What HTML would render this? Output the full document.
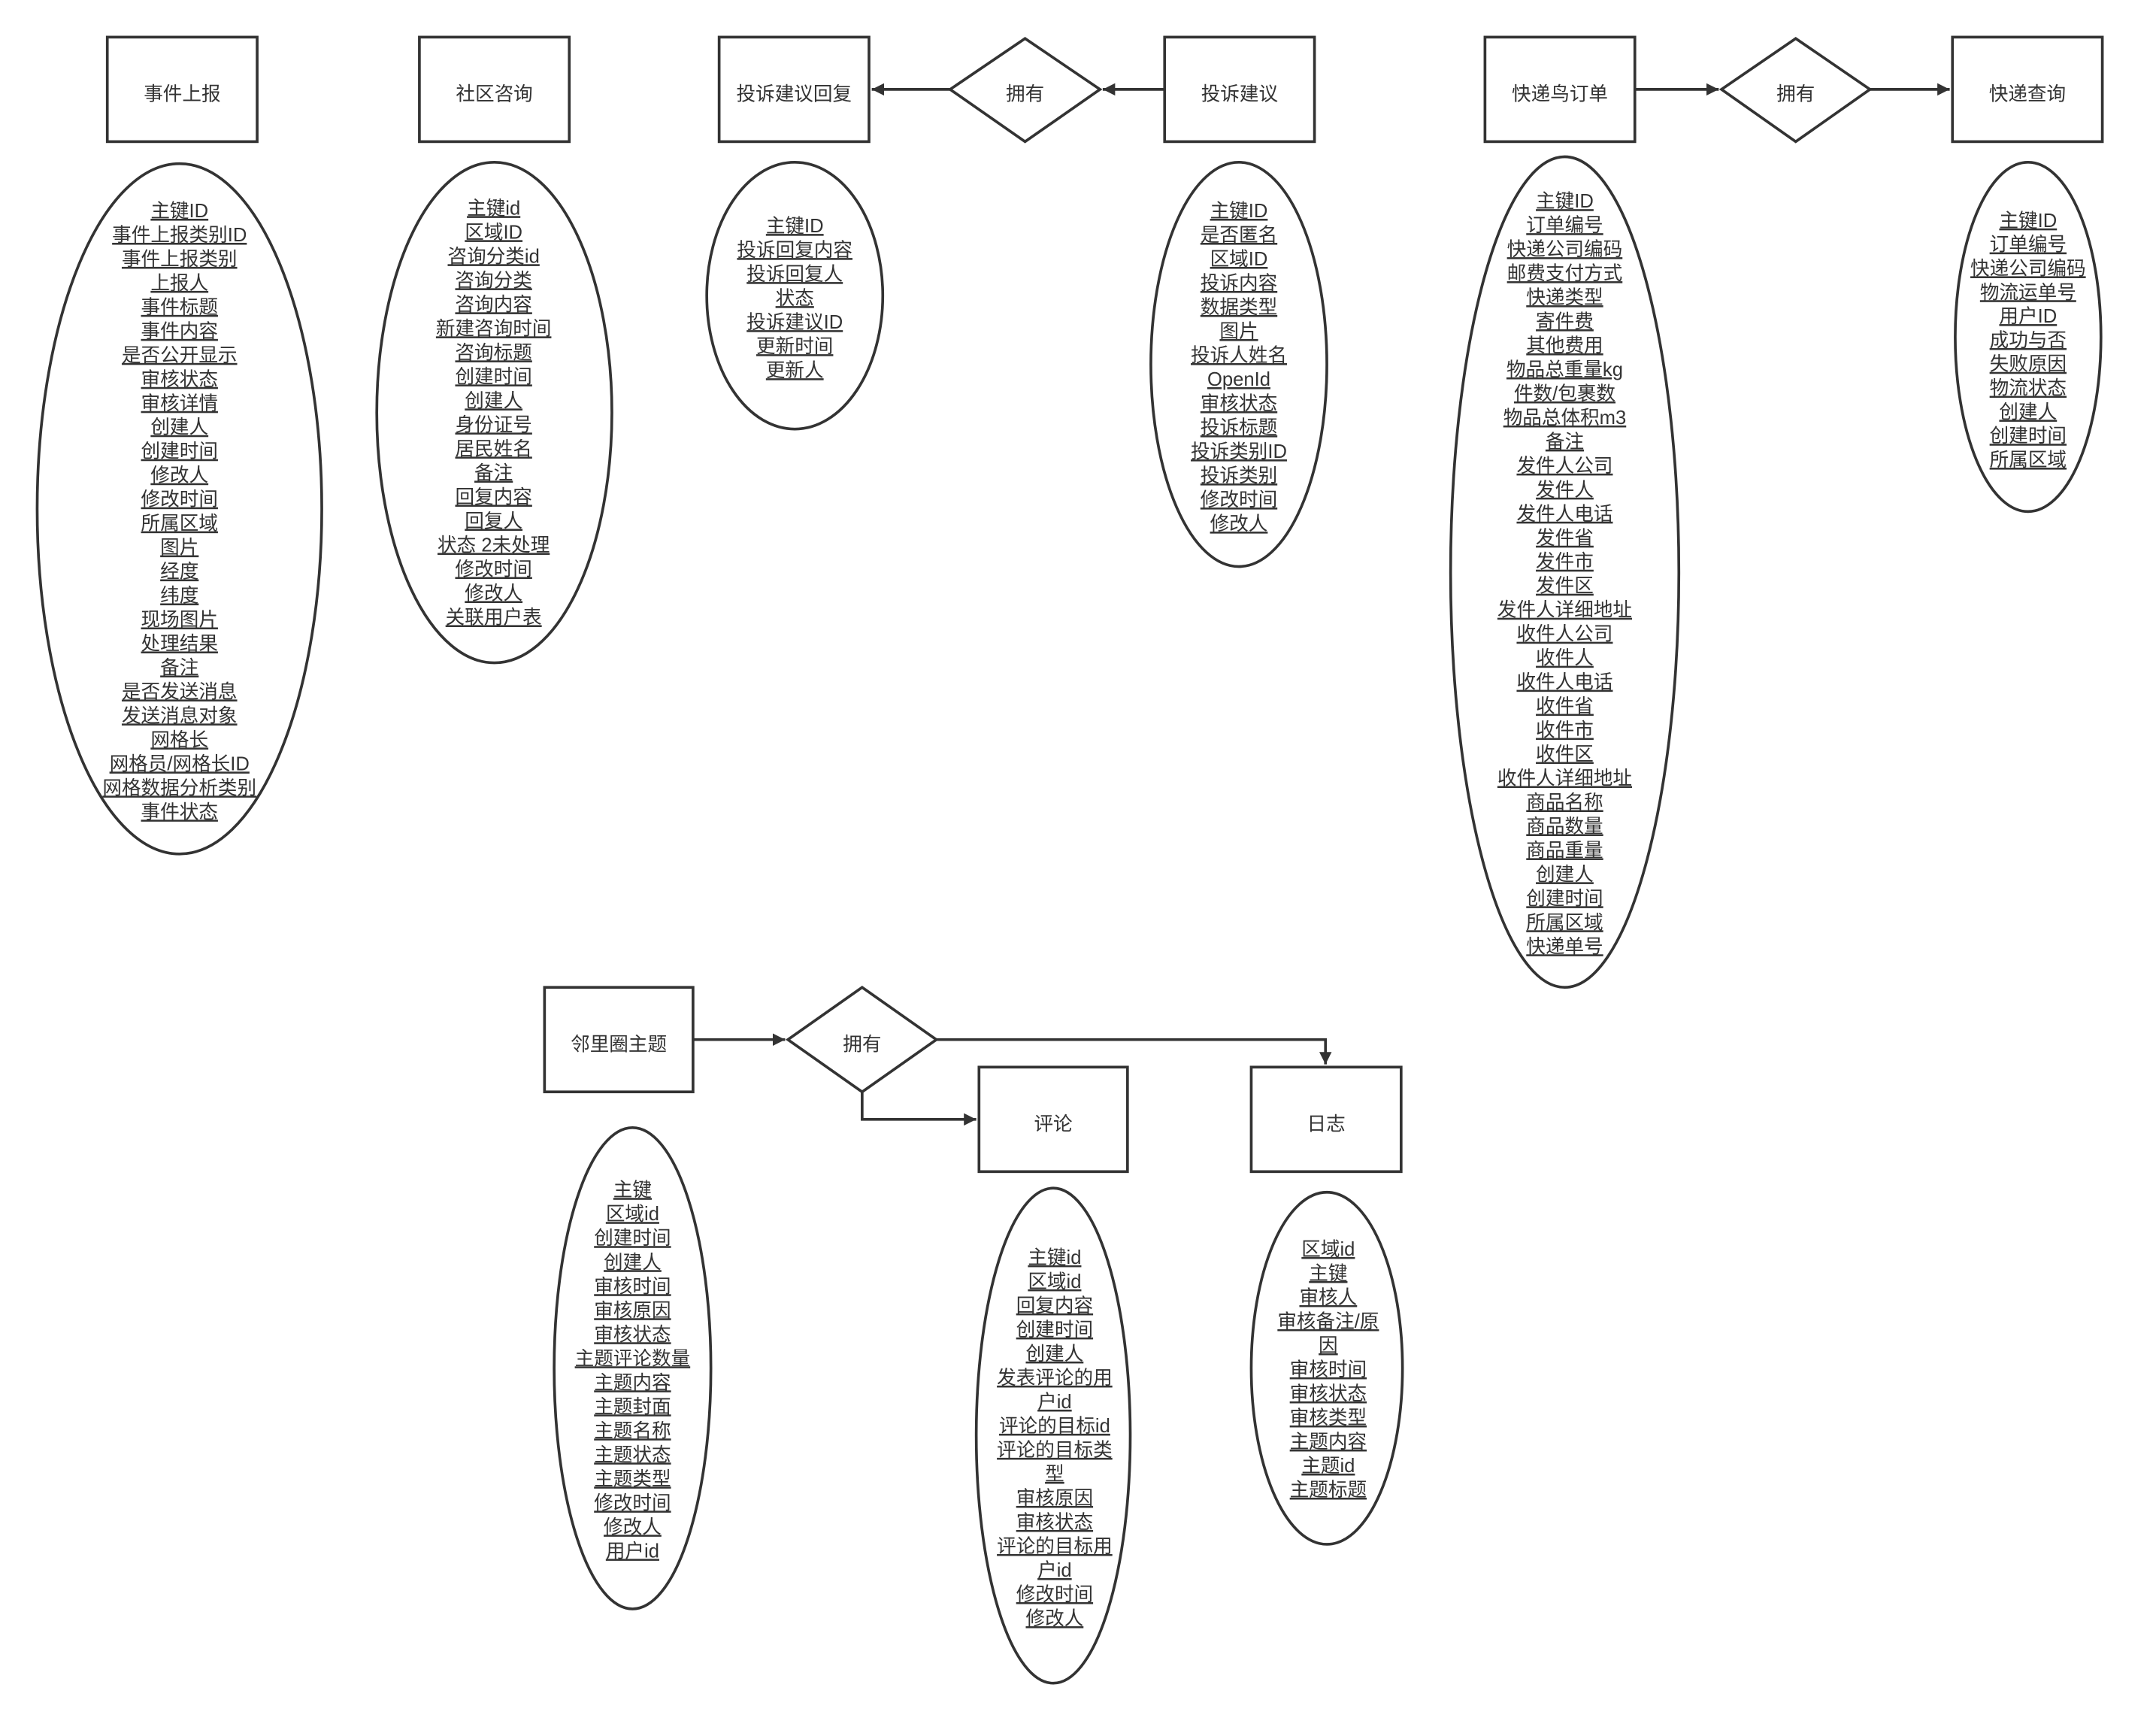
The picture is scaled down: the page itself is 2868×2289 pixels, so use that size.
<!DOCTYPE html>
<html><head><meta charset="utf-8">
<style>
html,body{margin:0;padding:0;background:#fff;}
svg{display:block;}
text{font-family:"Liberation Sans","Noto Sans CJK SC",sans-serif;fill:#333;}
.t{font-size:14px;text-anchor:middle;}
.a{font-size:14px;text-anchor:middle;text-decoration:underline;}
</style></head><body>
<svg width="2868" height="2289" viewBox="0 0 1568 1251.5" xmlns="http://www.w3.org/2000/svg">
<defs>
<marker id="ar" viewBox="0 0 10 10" refX="10" refY="5" markerWidth="9" markerHeight="9" markerUnits="userSpaceOnUse" orient="auto">
<path d="M0,0 L10,5 L0,10 z" fill="#333"/>
</marker>
</defs>
<g fill="none" stroke="#333" stroke-width="2">
<rect x="78" y="27" width="109" height="76"/>
<rect x="305" y="27" width="109" height="76"/>
<rect x="523" y="27" width="109" height="76"/>
<polygon points="691,65 745.5,28 800,65 745.5,103"/>
<rect x="847" y="27" width="109" height="76"/>
<rect x="1080" y="27" width="109" height="76"/>
<polygon points="1252,65 1306,28 1360,65 1306,103"/>
<rect x="1420" y="27" width="109" height="76"/>
<rect x="396" y="718" width="108" height="76"/>
<polygon points="573,756 627,718 681,756 627,794"/>
<rect x="712" y="776" width="108" height="76"/>
<rect x="910" y="776" width="109" height="76"/>

<ellipse cx="130.5" cy="370" rx="103.5" ry="251"/>
<ellipse cx="359.5" cy="300" rx="85.5" ry="182"/>
<ellipse cx="578" cy="215" rx="64" ry="97"/>
<ellipse cx="901" cy="265" rx="64" ry="147"/>
<ellipse cx="1138" cy="416" rx="83" ry="302"/>
<ellipse cx="1475" cy="245" rx="53" ry="127"/>
<ellipse cx="460" cy="995" rx="57" ry="175"/>
<ellipse cx="766" cy="1044" rx="56" ry="180"/>
<ellipse cx="965" cy="995" rx="55" ry="128"/>

<line x1="847" y1="65" x2="802" y2="65" marker-end="url(#ar)"/>
<line x1="691" y1="65" x2="634" y2="65" marker-end="url(#ar)"/>
<line x1="1189" y1="65" x2="1250" y2="65" marker-end="url(#ar)"/>
<line x1="1360" y1="65" x2="1418" y2="65" marker-end="url(#ar)"/>
<line x1="504" y1="756" x2="571" y2="756" marker-end="url(#ar)"/>
<polyline points="681,756 964,756 964,774" marker-end="url(#ar)"/>
<polyline points="627,794 627,814 710,814" marker-end="url(#ar)"/>
</g>

<text class="t" x="132.5" y="73">事件上报</text>
<text class="t" x="359.5" y="73">社区咨询</text>
<text class="t" x="577.5" y="73">投诉建议回复</text>
<text class="t" x="745.5" y="73">拥有</text>
<text class="t" x="901.5" y="73">投诉建议</text>
<text class="t" x="1134.5" y="73">快递鸟订单</text>
<text class="t" x="1306" y="73">拥有</text>
<text class="t" x="1474.5" y="73">快递查询</text>
<text class="t" x="450" y="764">邻里圈主题</text>
<text class="t" x="627" y="764">拥有</text>
<text class="t" x="766" y="822">评论</text>
<text class="t" x="964.5" y="822">日志</text>

<text class="a" y="158">
<tspan x="130.5">主键ID</tspan><tspan x="130.5" dy="17.48">事件上报类别ID</tspan><tspan x="130.5" dy="17.48">事件上报类别</tspan><tspan x="130.5" dy="17.48">上报人</tspan><tspan x="130.5" dy="17.48">事件标题</tspan><tspan x="130.5" dy="17.48">事件内容</tspan><tspan x="130.5" dy="17.48">是否公开显示</tspan><tspan x="130.5" dy="17.48">审核状态</tspan><tspan x="130.5" dy="17.48">审核详情</tspan><tspan x="130.5" dy="17.48">创建人</tspan><tspan x="130.5" dy="17.48">创建时间</tspan><tspan x="130.5" dy="17.48">修改人</tspan><tspan x="130.5" dy="17.48">修改时间</tspan><tspan x="130.5" dy="17.48">所属区域</tspan><tspan x="130.5" dy="17.48">图片</tspan><tspan x="130.5" dy="17.48">经度</tspan><tspan x="130.5" dy="17.48">纬度</tspan><tspan x="130.5" dy="17.48">现场图片</tspan><tspan x="130.5" dy="17.48">处理结果</tspan><tspan x="130.5" dy="17.48">备注</tspan><tspan x="130.5" dy="17.48">是否发送消息</tspan><tspan x="130.5" dy="17.48">发送消息对象</tspan><tspan x="130.5" dy="17.48">网格长</tspan><tspan x="130.5" dy="17.48">网格员/网格长ID</tspan><tspan x="130.5" dy="17.48">网格数据分析类别</tspan><tspan x="130.5" dy="17.48">事件状态</tspan>
</text>

<text class="a" y="156">
<tspan x="359">主键id</tspan><tspan x="359" dy="17.5">区域ID</tspan><tspan x="359" dy="17.5">咨询分类id</tspan><tspan x="359" dy="17.5">咨询分类</tspan><tspan x="359" dy="17.5">咨询内容</tspan><tspan x="359" dy="17.5">新建咨询时间</tspan><tspan x="359" dy="17.5">咨询标题</tspan><tspan x="359" dy="17.5">创建时间</tspan><tspan x="359" dy="17.5">创建人</tspan><tspan x="359" dy="17.5">身份证号</tspan><tspan x="359" dy="17.5">居民姓名</tspan><tspan x="359" dy="17.5">备注</tspan><tspan x="359" dy="17.5">回复内容</tspan><tspan x="359" dy="17.5">回复人</tspan><tspan x="359" dy="17.5">状态 2未处理</tspan><tspan x="359" dy="17.5">修改时间</tspan><tspan x="359" dy="17.5">修改人</tspan><tspan x="359" dy="17.5">关联用户表</tspan>
</text>

<text class="a" y="169">
<tspan x="578">主键ID</tspan><tspan x="578" dy="17.5">投诉回复内容</tspan><tspan x="578" dy="17.5">投诉回复人</tspan><tspan x="578" dy="17.5">状态</tspan><tspan x="578" dy="17.5">投诉建议ID</tspan><tspan x="578" dy="17.5">更新时间</tspan><tspan x="578" dy="17.5">更新人</tspan>
</text>

<text class="a" y="158">
<tspan x="901">主键ID</tspan><tspan x="901" dy="17.5">是否匿名</tspan><tspan x="901" dy="17.5">区域ID</tspan><tspan x="901" dy="17.5">投诉内容</tspan><tspan x="901" dy="17.5">数据类型</tspan><tspan x="901" dy="17.5">图片</tspan><tspan x="901" dy="17.5">投诉人姓名</tspan><tspan x="901" dy="17.5">OpenId</tspan><tspan x="901" dy="17.5">审核状态</tspan><tspan x="901" dy="17.5">投诉标题</tspan><tspan x="901" dy="17.5">投诉类别ID</tspan><tspan x="901" dy="17.5">投诉类别</tspan><tspan x="901" dy="17.5">修改时间</tspan><tspan x="901" dy="17.5">修改人</tspan>
</text>

<text class="a" y="151">
<tspan x="1138">主键ID</tspan><tspan x="1138" dy="17.48">订单编号</tspan><tspan x="1138" dy="17.48">快递公司编码</tspan><tspan x="1138" dy="17.48">邮费支付方式</tspan><tspan x="1138" dy="17.48">快递类型</tspan><tspan x="1138" dy="17.48">寄件费</tspan><tspan x="1138" dy="17.48">其他费用</tspan><tspan x="1138" dy="17.48">物品总重量kg</tspan><tspan x="1138" dy="17.48">件数/包裹数</tspan><tspan x="1138" dy="17.48">物品总体积m3</tspan><tspan x="1138" dy="17.48">备注</tspan><tspan x="1138" dy="17.48">发件人公司</tspan><tspan x="1138" dy="17.48">发件人</tspan><tspan x="1138" dy="17.48">发件人电话</tspan><tspan x="1138" dy="17.48">发件省</tspan><tspan x="1138" dy="17.48">发件市</tspan><tspan x="1138" dy="17.48">发件区</tspan><tspan x="1138" dy="17.48">发件人详细地址</tspan><tspan x="1138" dy="17.48">收件人公司</tspan><tspan x="1138" dy="17.48">收件人</tspan><tspan x="1138" dy="17.48">收件人电话</tspan><tspan x="1138" dy="17.48">收件省</tspan><tspan x="1138" dy="17.48">收件市</tspan><tspan x="1138" dy="17.48">收件区</tspan><tspan x="1138" dy="17.48">收件人详细地址</tspan><tspan x="1138" dy="17.48">商品名称</tspan><tspan x="1138" dy="17.48">商品数量</tspan><tspan x="1138" dy="17.48">商品重量</tspan><tspan x="1138" dy="17.48">创建人</tspan><tspan x="1138" dy="17.48">创建时间</tspan><tspan x="1138" dy="17.48">所属区域</tspan><tspan x="1138" dy="17.48">快递单号</tspan>
</text>

<text class="a" y="165">
<tspan x="1475">主键ID</tspan><tspan x="1475" dy="17.4">订单编号</tspan><tspan x="1475" dy="17.4">快递公司编码</tspan><tspan x="1475" dy="17.4">物流运单号</tspan><tspan x="1475" dy="17.4">用户ID</tspan><tspan x="1475" dy="17.4">成功与否</tspan><tspan x="1475" dy="17.4">失败原因</tspan><tspan x="1475" dy="17.4">物流状态</tspan><tspan x="1475" dy="17.4">创建人</tspan><tspan x="1475" dy="17.4">创建时间</tspan><tspan x="1475" dy="17.4">所属区域</tspan>
</text>

<text class="a" y="870">
<tspan x="460">主键</tspan><tspan x="460" dy="17.5">区域id</tspan><tspan x="460" dy="17.5">创建时间</tspan><tspan x="460" dy="17.5">创建人</tspan><tspan x="460" dy="17.5">审核时间</tspan><tspan x="460" dy="17.5">审核原因</tspan><tspan x="460" dy="17.5">审核状态</tspan><tspan x="460" dy="17.5">主题评论数量</tspan><tspan x="460" dy="17.5">主题内容</tspan><tspan x="460" dy="17.5">主题封面</tspan><tspan x="460" dy="17.5">主题名称</tspan><tspan x="460" dy="17.5">主题状态</tspan><tspan x="460" dy="17.5">主题类型</tspan><tspan x="460" dy="17.5">修改时间</tspan><tspan x="460" dy="17.5">修改人</tspan><tspan x="460" dy="17.5">用户id</tspan>
</text>

<text class="a" y="919">
<tspan x="767">主键id</tspan><tspan x="767" dy="17.5">区域id</tspan><tspan x="767" dy="17.5">回复内容</tspan><tspan x="767" dy="17.5">创建时间</tspan><tspan x="767" dy="17.5">创建人</tspan><tspan x="767" dy="17.5">发表评论的用</tspan><tspan x="767" dy="17.5">户id</tspan><tspan x="767" dy="17.5">评论的目标id</tspan><tspan x="767" dy="17.5">评论的目标类</tspan><tspan x="767" dy="17.5">型</tspan><tspan x="767" dy="17.5">审核原因</tspan><tspan x="767" dy="17.5">审核状态</tspan><tspan x="767" dy="17.5">评论的目标用</tspan><tspan x="767" dy="17.5">户id</tspan><tspan x="767" dy="17.5">修改时间</tspan><tspan x="767" dy="17.5">修改人</tspan>
</text>

<text class="a" y="913">
<tspan x="966">区域id</tspan><tspan x="966" dy="17.5">主键</tspan><tspan x="966" dy="17.5">审核人</tspan><tspan x="966" dy="17.5">审核备注/原</tspan><tspan x="966" dy="17.5">因</tspan><tspan x="966" dy="17.5">审核时间</tspan><tspan x="966" dy="17.5">审核状态</tspan><tspan x="966" dy="17.5">审核类型</tspan><tspan x="966" dy="17.5">主题内容</tspan><tspan x="966" dy="17.5">主题id</tspan><tspan x="966" dy="17.5">主题标题</tspan>
</text>
</svg>
</body></html>
